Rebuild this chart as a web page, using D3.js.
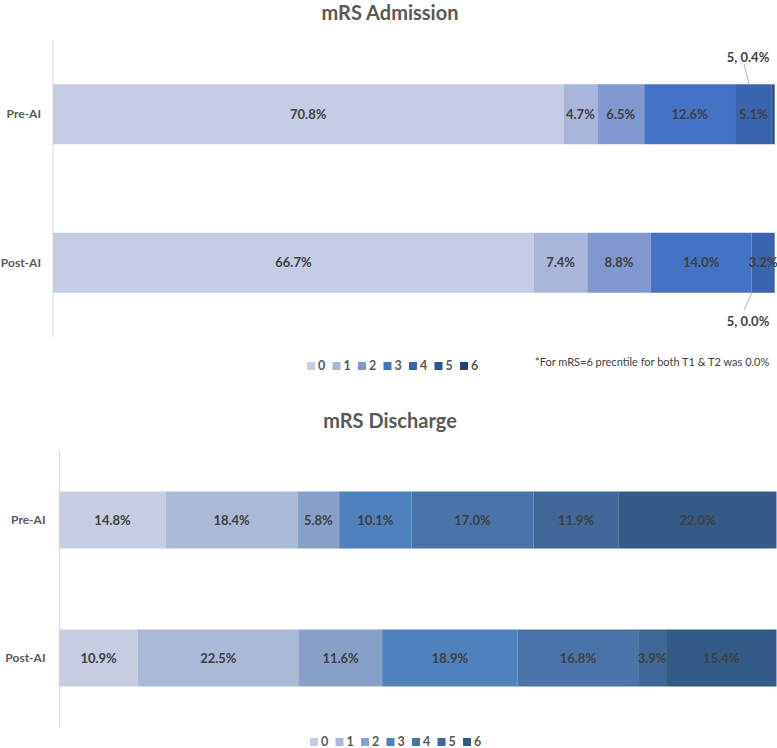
<!DOCTYPE html>
<html><head><meta charset="utf-8">
<script src="https://cdn.jsdelivr.net/npm/d3@7"></script>
<style>body{margin:0;background:#fff}svg{display:block}</style>
</head><body>
<svg id="c" width="777" height="748"></svg>
<script>
const groups = ["Pre-AI", "Post-AI"];
const levels = ["0","1","2","3","4","5","6"];
const admissionPre  = [70.8, 4.7, 6.5, 12.6, 5.1, 0.4, 0.0];
const admissionPost = [66.7, 7.4, 8.8, 14.0, 3.2, 0.0, 0.0];
const dischargePre  = [14.8, 18.4, 5.8, 10.1, 17.0, 11.9, 22.0];
const dischargePost = [10.9, 22.5, 11.6, 18.9, 16.8, 3.9, 15.4];
const admissionColors = ["#c5cde6","#a9b5db","#8097cf","#4472c4","#3b64ae","#2f5597","#264478"];
const dischargeColors = ["#c4cde2","#abb9d8","#87a0ca","#4f81bd","#4a74a9","#3f6797","#345a87"];
const footnote = "*For mRS=6 precntile for both T1 & T2 was 0.0%";

const svg = d3.select("#c");
const FONT = "Lato, 'Open Sans', sans-serif";

function drawPanel(cfg){
  const g = svg.append("g");
  const x = d3.scaleLinear().domain([0,100]).range(cfg.xr);
  const y = d3.scaleBand().domain(groups).range(cfg.yr).paddingInner(cfg.pad).paddingOuter(cfg.pad/2);
  g.append("text").attr("x", 390).attr("y", cfg.titleY).attr("text-anchor","middle")
    .attr("font-family", FONT).attr("font-weight","bold").attr("font-size", 20).attr("fill","#595959")
    .text(cfg.title);
  g.append("line").attr("x1", cfg.xr[0]).attr("x2", cfg.xr[0]).attr("y1", cfg.yr[0]).attr("y2", cfg.yr[1])
    .attr("stroke","#d9d9d9").attr("stroke-width",1);
  const yAxis = d3.axisLeft(y).tickSize(0).tickPadding(cfg.labelPad);
  const ya = g.append("g").attr("transform",`translate(${cfg.xr[0]},0)`).call(yAxis);
  ya.select(".domain").remove();
  ya.selectAll("text").attr("font-family", FONT).attr("font-weight","bold").attr("font-size", 12).attr("fill","#595959");
  const rows = [cfg.pre, cfg.post];
  rows.forEach((vals, ri) => {
    let cum = 0;
    const segs = vals.map((v,i)=>{ const s={i, v, x0:cum, x1:cum+v}; cum+=v; return s; });
    const rg = g.append("g");
    rg.selectAll("rect").data(segs).join("rect")
      .attr("x", d=>x(d.x0)).attr("width", d=>Math.max(0, x(d.x1)-x(d.x0)))
      .attr("y", y(groups[ri])).attr("height", y.bandwidth())
      .attr("fill", d=>cfg.colors[d.i]);
    rg.selectAll("text").data(segs.filter(d=>d.v>=1)).join("text")
      .attr("x", d=>(x(d.x0)+x(d.x1))/2).attr("y", y(groups[ri])+y.bandwidth()/2)
      .attr("dy","0.35em").attr("text-anchor","middle")
      .attr("font-family", FONT).attr("font-weight","bold").attr("font-size", 13).attr("fill","#404040")
      .text(d=>d.v.toFixed(1)+"%");
  });
  const lg = g.append("g");
  const step = 25.5;
  const lx0 = cfg.legendX;
  levels.forEach((l,i)=>{
    lg.append("rect").attr("x", lx0 + i*step).attr("y", cfg.legendY-4).attr("width",8).attr("height",8).attr("fill", cfg.colors[i]);
    lg.append("text").attr("x", lx0 + i*step + 11).attr("y", cfg.legendY).attr("dy","0.35em")
      .attr("font-family", FONT).attr("font-weight","bold").attr("font-size", 12.5).attr("fill","#595959").text(l);
  });
  return {g, x, y};
}

const admPanel = drawPanel({title:"mRS Admission", titleY:20, xr:[53,774], yr:[40,337], pad:0.596, labelPad:12,
  pre:admissionPre, post:admissionPost, colors:admissionColors, legendY:366, legendX:307});
const disPanel = drawPanel({title:"mRS Discharge", titleY:428, xr:[59.5,776.5], yr:[451,727], pad:0.587, labelPad:14,
  pre:dischargePre, post:dischargePost, colors:dischargeColors, legendY:742, legendX:310});

const callouts = [
  {row:0, lvl:5, text:"5, "+admissionPre[5].toFixed(1)+"%", lx:748, ly:57, above:true},
  {row:1, lvl:5, text:"5, "+admissionPost[5].toFixed(1)+"%", lx:748, ly:321, above:false}
];
callouts.forEach(c=>{
  const yb = admPanel.y(groups[c.row]);
  const yEdge = c.above ? yb : yb + admPanel.y.bandwidth();
  const ax = c.above ? 749 : 752;
  admPanel.g.append("line").attr("x1", ax).attr("y1", yEdge)
    .attr("x2", c.lx - 4).attr("y2", c.above ? c.ly+7 : c.ly-11)
    .attr("stroke","#a9b5db").attr("stroke-width",1);
  admPanel.g.append("text").attr("x", c.lx).attr("y", c.ly).attr("dy","0.35em").attr("text-anchor","middle")
    .attr("font-family", FONT).attr("font-weight","bold").attr("font-size", 13).attr("fill","#404040").text(c.text);
});

svg.append("text").attr("x", 535).attr("y", 362).attr("dy","0.35em")
  .attr("font-family", FONT).attr("font-size", 11).attr("fill","#404040").text(footnote);
</script>
</body></html>
